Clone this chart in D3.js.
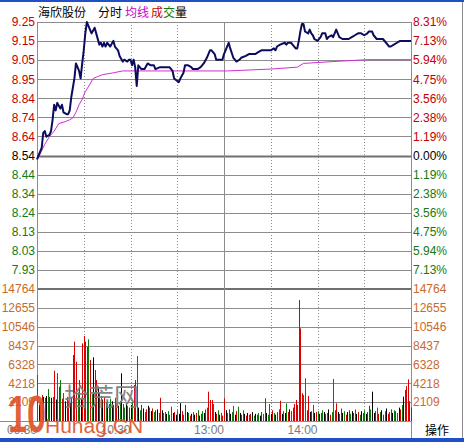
<!DOCTYPE html>
<html>
<head>
<meta charset="utf-8">
<script src="https://cdn.jsdelivr.net/npm/d3@7"></script>
<style>
  body { margin: 0; background: #fff; }
  svg { display: block; }
  text { font-family: "Liberation Sans", Arial, sans-serif; font-size: 12px; }
  .cjk { font-family: "Noto Sans CJK SC", sans-serif; }
</style>
</head>
<body>
<div id="chart"></div>
<script>
// labels down the sides
const priceLabels = ["9.25","9.15","9.05","8.95","8.84","8.74","8.64","8.54","8.44","8.34","8.24","8.13","8.03","7.93"];
const pctLabels = ["8.31%","7.13%","5.94%","4.75%","3.56%","2.38%","1.19%","0.00%","1.19%","2.38%","3.56%","4.75%","5.94%","7.13%"];
const volLabels = ["14764","12655","10546","8437","6328","4218","2109"];
const timeLabels = ["09:30","10:30","13:00","14:00"];
const timeTicks = [0, 60, 120, 180];

// price line (minute from 9:30, price)
const priceMinutes = [0,1,3,4,5,6,8,9,10,11,12,13,15,16,17,19,20,21,22,24,25,27,28,29,30,31,32,34,35,37,38,40,41,42,43,44,45,47,49,50,52,53,55,56,58,59,60,61,62,63,64,65,67,69,71,73,75,76,79,82,85,87,88,91,92,94,95,97,99,100,103,105,107,109,111,112,114,115,117,119,120,122,123,124,126,127,128,130,131,134,136,138,140,142,144,146,147,150,152,153,154,156,159,160,161,163,164,166,167,168,169,170,171,172,174,175,176,177,178,180,182,183,185,186,187,189,190,191,192,193,194,196,198,200,202,204,206,208,210,212,213,215,216,218,220,222,224,226,227,229,231,233,235,237,239,240];
const priceValues = [8.52,8.54,8.58,8.66,8.67,8.64,8.65,8.67,8.73,8.81,8.78,8.82,8.79,8.81,8.77,8.76,8.76,8.78,8.85,8.95,9.03,8.99,8.95,9.03,9.10,9.19,9.25,9.21,9.19,9.22,9.19,9.13,9.14,9.12,9.14,9.12,9.14,9.12,9.15,9.12,9.10,9.07,9.04,9.05,9.04,9.05,9.05,9.02,9.05,9.01,8.91,9.02,9.00,9.00,9.03,9.02,9.02,9.00,9.01,9.01,9.01,8.99,8.95,8.93,8.95,8.98,9.02,9.02,9.01,9.00,9.00,9.01,9.03,9.06,9.10,9.10,9.08,9.05,9.05,9.05,9.08,9.12,9.14,9.11,9.06,9.05,9.04,9.05,9.06,9.07,9.08,9.08,9.08,9.09,9.10,9.10,9.10,9.10,9.11,9.10,9.12,9.13,9.14,9.13,9.14,9.14,9.13,9.11,9.11,9.15,9.20,9.24,9.24,9.20,9.19,9.21,9.19,9.18,9.16,9.15,9.17,9.19,9.19,9.16,9.17,9.18,9.17,9.19,9.21,9.19,9.17,9.16,9.16,9.16,9.17,9.18,9.19,9.19,9.18,9.19,9.20,9.20,9.18,9.16,9.16,9.16,9.14,9.12,9.12,9.13,9.14,9.15,9.15,9.15,9.15,9.15];

// average price line
const avgMinutes = [0,1,5,8,11,14,18,21,23,25,27,29,31,34,36,39,42,49,55,80,100,122,150,167,171,190,212,240];
const avgValues = [8.52,8.53,8.60,8.64,8.67,8.71,8.72,8.73,8.74,8.77,8.81,8.84,8.88,8.92,8.95,8.96,8.97,8.98,8.99,8.99,8.99,8.99,9.00,9.01,9.03,9.04,9.05,9.05];

// volume per minute (0..240) and bar colour: r up, g down, k flat
const volumes = [
  5140,1800,2200,2900,2700,2600,2800,3580,2700,2600,2700,5620,2400,5360,3840,4580,2500,3130,2200,2700,
  2300,2000,2600,7380,8870,6630,3200,4580,2600,8680,9500,8870,8310,9130,6820,3000,7120,5700,4580,3840,
  3130,2800,2400,2600,2100,2300,1900,2500,2200,1800,2600,2000,1700,2200,5330,1900,1500,2000,1700,1500,
  1800,2200,4025,4580,7270,1500,1200,1800,1400,1000,1300,1700,1500,1100,1400,1000,1200,1300,900,2600,
  1200,900,1000,800,1100,700,1600,900,1000,700,1200,800,2000,1100,700,1800,1000,900,600,800,
  1000,700,900,1200,600,800,1100,900,1300,1500,3280,2350,2350,1900,1000,800,1200,700,900,600,
  2540,1200,900,1300,800,1000,1680,700,1100,1600,900,700,1200,800,600,900,700,800,1000,600,
  800,700,900,600,1000,800,2540,900,700,1900,800,1200,900,700,1000,1300,2270,800,1100,900,
  1980,1000,1300,1100,1500,1900,2350,1800,13530,10360,3100,2900,4770,1200,2800,1000,1100,1790,900,1000,
  1100,800,900,1200,1000,800,900,1300,700,1000,4700,1200,1980,1000,800,1400,900,1100,700,1000,
  1200,800,1100,900,1300,800,1000,700,1100,900,1200,800,1000,1700,1300,3280,900,1100,1500,800,
  1000,1200,700,1100,1400,800,1000,1300,900,1200,1100,900,1500,1300,1800,2720,3470,3900,4660,2200,
  1500
];
const volColors = (
  "gkrrkrkgrkgrkgrgrgkr" + "rkrrrrgrkrrrrgrgkrrk" + "rgkrgkrgkrgrkgkrgkgr" + "kgrrgkgrkgrkgkrgrkgr" +
  "kgrkgrgkrkgkkrgrkgrk" + "gkrgkrgkrgrrrgkrgkgr" + "rkgrkggkrgkrgkrkgrkg" + "krgkrgrkggkrgkrgrkgk" +
  "grkgrrrrrrrggrrkrgkr" + "gkrgkrgkrggrrkgrkgrk" + "rgkrgkrgkrgkrrgkkrgr" + "gkrgkrgrkgrgkrgkrrrr" + "r"
).split("");

const W = 464, H = 442;
const padL = 37, padR = 411, paneTop = 22, paneMid = 289, paneBot = 421;
const red = "#c40000", green = "#137a13", brown = "#c86a2c", grid = "#8c8c8c";
const barColor = { r: "#d80000", g: "#0a7d0a", k: "#000000" };

const svg = d3.select("#chart").append("svg")
  .attr("width", W)
  .attr("height", H);

const x = d3.scaleLinear().domain([0, 240]).range([padL, padR]);
// grid rows: +7 at top .. -7 at the bottom of the price pane, step = 1.19%
const step = 8.54 * 0.011885;
const yPrice = d3.scaleLinear().domain([8.54 - 7 * step, 8.54 + 7 * step]).range([paneMid, paneTop]);
const yRow = d3.scaleLinear().domain([7, -7]).range([paneTop, paneMid]);
const yVol = d3.scaleLinear().domain([0, 14764]).range([paneBot, paneMid]);

// blue frame strips
svg.append("rect").attr("x", 0).attr("y", 0).attr("width", W).attr("height", 2).attr("fill", "#1f50c8");
svg.append("rect").attr("x", 0).attr("y", 438).attr("width", W).attr("height", 4).attr("fill", "#1f50c8");

// horizontal grid
const rows = d3.range(7, -8, -1);
svg.append("g").selectAll("line")
  .data(rows)
  .enter().append("line")
  .attr("x1", padL).attr("x2", padR)
  .attr("y1", d => Math.round(yRow(d)) + 0.5)
  .attr("y2", d => Math.round(yRow(d)) + 0.5)
  .attr("stroke", d => d == 0 ? "#707070" : grid)
  .attr("stroke-width", d => d == 0 ? 2 : 1);

const volRows = d3.range(1, 7).map(k => k * 2109);
svg.append("g").selectAll("line")
  .data(volRows)
  .enter().append("line")
  .attr("x1", padL).attr("x2", padR)
  .attr("y1", d => Math.round(yVol(d)) + 0.5)
  .attr("y2", d => Math.round(yVol(d)) + 0.5)
  .attr("stroke", grid);

svg.append("line").attr("x1", padL).attr("x2", padR)
  .attr("y1", paneMid).attr("y2", paneMid).attr("stroke", "#707070").attr("stroke-width", 2);
svg.append("line").attr("x1", 0).attr("x2", padR)
  .attr("y1", paneBot + 0.5).attr("y2", paneBot + 0.5).attr("stroke", grid);

// vertical grid, every half hour
const cols = d3.range(0, 241, 30);
svg.append("g").selectAll("line")
  .data(cols)
  .enter().append("line")
  .attr("x1", d => Math.round(x(d)) + 0.5)
  .attr("x2", d => Math.round(x(d)) + 0.5)
  .attr("y1", paneTop).attr("y2", paneBot)
  .attr("stroke", grid)
  .attr("stroke-dasharray", d => (d == 0 || d == 120 || d == 240) ? null : "1,2");

// right edge of the window
svg.append("line").attr("x1", 462.5).attr("x2", 462.5).attr("y1", 2).attr("y2", 438).attr("stroke", grid);

// volume bars
svg.append("g").selectAll("rect")
  .data(volumes)
  .enter().append("rect")
  .attr("x", (d, i) => Math.round(x(i)))
  .attr("y", d => yVol(d))
  .attr("width", 1)
  .attr("height", d => paneBot - yVol(d))
  .attr("fill", (d, i) => barColor[volColors[i]] || "#000");

// average line
const avgData = avgMinutes.map((m, i) => [m, avgValues[i]]);
svg.append("path")
  .datum(avgData)
  .attr("fill", "none")
  .attr("stroke", "#d22ed2")
  .attr("stroke-width", 1)
  .attr("d", d3.line().x(d => x(d[0])).y(d => yPrice(d[1])));

// price line
const priceData = priceMinutes.map((m, i) => [m, priceValues[i]]);
svg.append("path")
  .datum(priceData)
  .attr("fill", "none")
  .attr("stroke", "#0c0c5e")
  .attr("stroke-width", 2)
  .attr("stroke-linejoin", "round")
  .attr("d", d3.line().x(d => x(d[0])).y(d => yPrice(d[1])));

// left price axis
const rowColor = d => d > 0 ? red : (d < 0 ? green : "#000");
const leftAxis = svg.append("g")
  .attr("transform", `translate(${padL - 2},0)`)
  .call(d3.axisLeft(yRow).tickValues(rows).tickSize(0).tickPadding(0)
    .tickFormat(d => priceLabels[7 - d]));
leftAxis.select(".domain").remove();
leftAxis.selectAll("text").attr("fill", rowColor).style("font-size", "12px")
  .attr("font-family", null);

const rightAxis = svg.append("g")
  .attr("transform", `translate(${padR + 2},0)`)
  .call(d3.axisRight(yRow).tickValues(rows).tickSize(0).tickPadding(0)
    .tickFormat(d => pctLabels[7 - d]));
rightAxis.select(".domain").remove();
rightAxis.selectAll("text").attr("fill", rowColor).style("font-size", "12px")
  .attr("font-family", null);

// volume axes
const volTicks = d3.range(7, 0, -1).map(k => k * 2109);
volTicks[0] = 14764;
const volAxisL = svg.append("g")
  .attr("transform", `translate(${padL - 2},0)`)
  .call(d3.axisLeft(yVol).tickValues(volTicks).tickSize(0).tickPadding(0)
    .tickFormat((d, i) => volLabels[i]));
volAxisL.select(".domain").remove();
volAxisL.selectAll("text").attr("fill", brown).style("font-size", "12px").attr("font-family", null);

const volAxisR = svg.append("g")
  .attr("transform", `translate(${padR + 2},0)`)
  .call(d3.axisRight(yVol).tickValues(volTicks).tickSize(0).tickPadding(0)
    .tickFormat((d, i) => volLabels[i]));
volAxisR.select(".domain").remove();
volAxisR.selectAll("text").attr("fill", brown).style("font-size", "12px").attr("font-family", null);

// time labels, right aligned on their grid line
svg.append("g").selectAll("text")
  .data(timeTicks)
  .enter().append("text")
  .attr("x", d => x(d))
  .attr("y", 434)
  .attr("text-anchor", "end")
  .attr("fill", "#7a7a7a")
  .text((d, i) => timeLabels[i]);

// button cell
svg.append("line").attr("x1", padR + 0.5).attr("x2", padR + 0.5).attr("y1", paneBot).attr("y2", 438).attr("stroke", grid);
svg.append("text").attr("class", "cjk").attr("x", 437).attr("y", 435)
  .attr("text-anchor", "middle").attr("fill", "#000").text("操作");

// title row
const title = svg.append("text").attr("class", "cjk").attr("y", 17);
title.append("tspan").attr("x", 38).attr("fill", "#000").text("海欣股份");
title.append("tspan").attr("x", 98).attr("fill", "#000").text("分时");
title.append("tspan").attr("x", 125).attr("fill", "#cc00cc").text("均线");
title.append("tspan").attr("x", 151).attr("fill", "#cc0000").text("成");
title.append("tspan").attr("fill", "#0a7d0a").text("交");
title.append("tspan").attr("fill", "#000").text("量");

// site watermark in the lower left
const wm = svg.append("g");
wm.append("text").attr("class", "cjk").attr("x", 64).attr("y", 406)
  .style("font-size", "25px").attr("fill", "#7e7e7e").attr("opacity", 0.95).text("拾荒网");
wm.append("text").attr("x", 8).attr("y", 432)
  .attr("textLength", 38).attr("lengthAdjust", "spacingAndGlyphs")
  .style("font-size", "52px").style("font-weight", "bold")
  .attr("fill", "#e0542a").attr("opacity", 0.92).text("10");
wm.append("text").attr("x", 45).attr("y", 433)
  .style("font-size", "21px").attr("fill", "#e0542a").attr("opacity", 0.92).text("Hunag.CN");
</script>
</body>
</html>
